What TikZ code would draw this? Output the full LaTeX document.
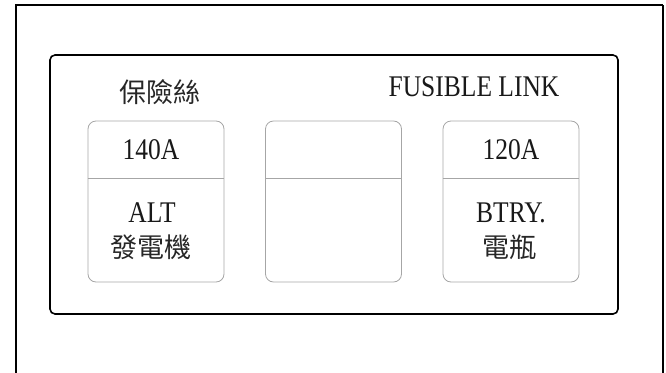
\documentclass[tikz,border=0pt]{standalone}
\usepackage{fontspec}
\setmainfont{Liberation Serif}[FakeStretch=0.85]
\newfontfamily\cjk{Noto Sans CJK TC}
\begin{document}
\begin{tikzpicture}[x=1pt,y=-1pt,
  fuse/.style={draw=black!35, line width=0.8pt, rounded corners=8pt,
    minimum width=136pt, minimum height=161pt, inner sep=0pt},
  divider/.style={draw=black!35, line width=0.8pt},
  lat/.style={font=\fontsize{30}{32}\selectfont, anchor=base, inner sep=0pt, text=black!90},
  han/.style={font=\cjk\fontsize{27}{29}\selectfont, anchor=base, inner sep=0pt, text=black!85}]
\useasboundingbox (0,0) rectangle (666,372);
% outer frame (bottom cut off)
\draw[line width=2pt] (16,373) -- (16,5) -- (663,5);
\draw[line width=1.4pt] (663,5) -- (663,373);
% panel
\draw[line width=1.6pt, rounded corners=5pt] (50,55) rectangle (618,314);
% titles
\node[han] (tzh) at (160,102) {保險絲};
\node[lat] (ten) at (474,96) {FUSIBLE LINK};
% fuse boxes
\node[fuse] (b1) at (156,201.5) {};
\node[fuse] (b2) at (333.5,201.5) {};
\node[fuse] (b3) at (511,201.5) {};
\foreach \b in {b1,b2,b3}
  \draw[divider] ([yshift=-58pt]\b.north west) -- ([yshift=-58pt]\b.north east);
% labels
\node[lat] (a1) at (151,159) {140A};
\node[lat] (a3) at (511,159) {120A};
\node[lat] (l1) at (152,222) {ALT};
\node[han] (c1) at (151,257) {發電機};
\node[lat] (l3) at (511,222) {BTRY.};
\node[han] (c3) at (509,257) {電瓶};
\end{tikzpicture}
\end{document}
